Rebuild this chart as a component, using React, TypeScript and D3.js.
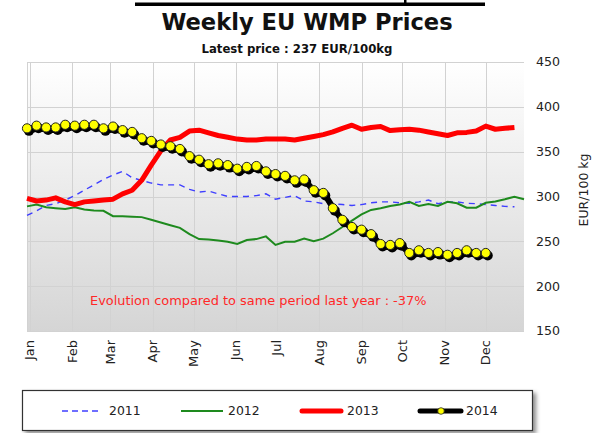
import React, { useEffect, useRef } from 'react';
import * as d3 from 'd3';

// weekly prices, EUR/100kg, one value per ISO week (Monday)
const prices2011 = [279, 284, 290, 292, 296, 301, 307, 313, 319, 324, 328, 321, 318, 315, 313, 313, 313, 308, 305, 306, 303, 300, 300, 300, 301, 303, 297, 299, 301, 295, 294, 292, 292, 291, 290, 291, 293, 294, 294, 293, 292.5, 294, 296, 292, 294, 294, 292.5, 292, 291, 290, 289, 288.5];
const prices2012 = [289, 291, 288, 287, 286, 288, 285.5, 284.5, 284, 278, 278, 277.5, 277, 274, 271, 268, 265, 258, 252.5, 252, 251, 249.5, 247, 251.5, 252.5, 255.5, 246, 249.5, 249.5, 253, 250, 253, 259, 266, 273, 280, 285, 287, 289.5, 291, 294, 289.5, 291.5, 289.5, 294, 292.5, 287.5, 287.5, 293, 294.5, 297, 299.8, 297];
const prices2013 = [298, 295, 296, 298.5, 294, 291, 294, 295, 296, 297, 303, 307, 318, 335, 351, 363, 366, 373, 374, 371, 368, 366, 364, 363, 363, 364, 364, 364, 363, 365, 367, 369, 372, 376, 379.5, 375, 377, 378, 373.5, 374.5, 375, 374, 372, 370, 368, 371, 371.5, 373, 378.5, 375, 376, 377];
const prices2014 = [376, 379, 377, 377, 380, 379, 380, 380, 376, 378, 374, 372, 365, 362, 358, 356, 353, 345, 341, 336, 337, 335, 331, 333, 334, 328, 325, 323, 318, 319, 307, 304, 287, 274, 266, 263, 258, 247, 246, 248, 237, 240, 237, 238, 235, 237, 240, 237, 237];

const yTicks = [150, 200, 250, 300, 350, 400, 450];
const monthLabels = ['Jan', 'Feb', 'Mar', 'Apr', 'May', 'Jun', 'Jul', 'Aug', 'Sep', 'Oct', 'Nov', 'Dec'];
const legendYears = ['2011', '2012', '2013', '2014'];

const FONT = "'DejaVu Sans', Verdana, sans-serif";

function WmpChart() {
  const ref = useRef<SVGSVGElement>(null);

  useEffect(() => {
    const svg = d3.select(ref.current);
    svg.selectAll('*').remove();

    const plot = { left: 27, right: 524, top: 62, bottom: 331 };
    const start = new Date(2013, 11, 30);
    const end = new Date(2014, 11, 29);
    const weeks = d3.timeMonday.range(start, new Date(2014, 11, 30));

    const x = d3.scaleTime().domain([start, end]).range([plot.left, plot.right]);
    const y = d3.scaleLinear().domain([150, 450]).range([plot.bottom, plot.top]);

    const defs = svg.append('defs');
    const grad = defs.append('linearGradient')
      .attr('id', 'bg').attr('x1', 0).attr('y1', 0).attr('x2', 0).attr('y2', 1);
    grad.append('stop').attr('offset', '0%').attr('stop-color', '#ffffff');
    grad.append('stop').attr('offset', '100%').attr('stop-color', '#d5d5d5');
    const shadow = defs.append('filter').attr('id', 'legShadow')
      .attr('x', '-5%').attr('y', '-20%').attr('width', '115%').attr('height', '160%');
    shadow.append('feDropShadow').attr('dx', 3).attr('dy', 3)
      .attr('stdDeviation', 2).attr('flood-color', '#000').attr('flood-opacity', 0.45);

    // cropped bar above the title
    svg.append('rect').attr('x', 135).attr('y', 2.5).attr('width', 350).attr('height', 3.5).attr('fill', '#000');
    svg.append('rect').attr('x', 404).attr('y', 0).attr('width', 2.5).attr('height', 3).attr('fill', '#000');

    svg.append('text').attr('x', 307).attr('y', 30).attr('text-anchor', 'middle')
      .style('font-family', FONT).style('font-weight', 'bold').style('font-size', '22.6px')
      .attr('fill', '#111').text('Weekly EU WMP Prices');
    svg.append('text').attr('x', 297).attr('y', 53).attr('text-anchor', 'middle')
      .style('font-family', FONT).style('font-weight', 'bold').style('font-size', '11.7px')
      .attr('fill', '#111').text('Latest price : 237 EUR/100kg');

    // plot background
    svg.append('rect').attr('x', plot.left).attr('y', plot.top)
      .attr('width', plot.right - plot.left).attr('height', plot.bottom - plot.top)
      .attr('fill', 'url(#bg)');

    const months = d3.timeMonth.range(new Date(2014, 0, 1), new Date(2015, 0, 1));

    const grid = svg.append('g').attr('stroke', '#d2d2d2').attr('stroke-width', 1);
    grid.selectAll('line.h').data(yTicks).enter().append('line')
      .attr('x1', plot.left).attr('x2', plot.right)
      .attr('y1', d => Math.round(y(d)) + 0.5).attr('y2', d => Math.round(y(d)) + 0.5);
    grid.selectAll('line.v').data(months).enter().append('line')
      .attr('y1', plot.top).attr('y2', plot.bottom)
      .attr('x1', d => Math.round(x(d)) + 0.5).attr('x2', d => Math.round(x(d)) + 0.5);
    grid.append('line').attr('x1', plot.left + 0.5).attr('x2', plot.left + 0.5)
      .attr('y1', plot.top).attr('y2', plot.bottom);

    // right axis labels
    svg.append('g').selectAll('text').data(yTicks).enter().append('text')
      .attr('x', 536).attr('y', d => y(d)).attr('dy', '0.35em')
      .style('font-family', FONT).style('font-size', '12.6px').attr('fill', '#222')
      .text(d => d);
    svg.append('text').attr('transform', 'translate(588,190) rotate(-90)')
      .attr('text-anchor', 'middle')
      .style('font-family', FONT).style('font-size', '12.5px').attr('fill', '#222')
      .text('EUR/100 kg');

    // month labels
    svg.append('g').selectAll('text').data(months).enter().append('text')
      .attr('transform', (d: Date) => `translate(${x(d)},340) rotate(-90)`)
      .attr('text-anchor', 'end').attr('dy', '0.35em')
      .style('font-family', FONT).style('font-size', '13px').attr('fill', '#222')
      .text((d: Date, i: number) => monthLabels[i]);

    const line = d3.line<number>()
      .x((d, i) => x(weeks[i]))
      .y(d => y(d));

    svg.append('path').datum(prices2011).attr('d', line).attr('fill', 'none')
      .attr('stroke', '#3f3fff').attr('stroke-width', 1.4).attr('stroke-dasharray', '6,5');
    svg.append('path').datum(prices2012).attr('d', line).attr('fill', 'none')
      .attr('stroke', '#1e8a1e').attr('stroke-width', 2);
    svg.append('path').datum(prices2013).attr('d', line).attr('fill', 'none')
      .attr('stroke', '#ff0000').attr('stroke-width', 5).attr('stroke-linejoin', 'round');

    // 2014 with shadow
    const s14 = svg.append('g');
    s14.append('path').datum(prices2014).attr('d', line).attr('fill', 'none')
      .attr('transform', 'translate(2,2.5)')
      .attr('stroke', '#000').attr('stroke-width', 6).attr('stroke-linejoin', 'round');
    s14.selectAll('circle.sh').data(prices2014).enter().append('circle')
      .attr('cx', (d, i) => x(weeks[i]) + 2).attr('cy', d => y(d) + 2.5)
      .attr('r', 5).attr('fill', '#000');
    s14.append('path').datum(prices2014).attr('d', line).attr('fill', 'none')
      .attr('stroke', '#000').attr('stroke-width', 4).attr('stroke-linejoin', 'round');
    s14.selectAll('circle.pt').data(prices2014).enter().append('circle')
      .attr('cx', (d, i) => x(weeks[i])).attr('cy', d => y(d))
      .attr('r', 4.6).attr('fill', '#ffff00').attr('stroke', '#222').attr('stroke-width', 1);

    svg.append('text').attr('x', 90).attr('y', 305)
      .style('font-family', FONT).style('font-size', '12.9px').attr('fill', '#ff2828')
      .text('Evolution compared to same period last year : -37%');

    // legend
    const leg = svg.append('g');
    leg.append('rect').attr('x', 22.5).attr('y', 390.5).attr('width', 510).attr('height', 40)
      .attr('fill', '#fff').attr('stroke', '#333').attr('stroke-width', 1.2)
      .attr('filter', 'url(#legShadow)');
    const itemX = [62, 181, 300, 418];
    const ly = 411;
    leg.append('line').attr('x1', itemX[0]).attr('x2', itemX[0] + 38).attr('y1', ly).attr('y2', ly)
      .attr('stroke', '#3f3fff').attr('stroke-width', 1.4).attr('stroke-dasharray', '6,4');
    leg.append('line').attr('x1', itemX[1]).attr('x2', itemX[1] + 42).attr('y1', ly).attr('y2', ly)
      .attr('stroke', '#1e8a1e').attr('stroke-width', 2);
    leg.append('line').attr('x1', itemX[2] + 2).attr('x2', itemX[2] + 41).attr('y1', ly).attr('y2', ly)
      .attr('stroke', '#ff0000').attr('stroke-width', 5).attr('stroke-linecap', 'round');
    leg.append('line').attr('x1', itemX[3] + 2).attr('x2', itemX[3] + 43).attr('y1', ly).attr('y2', ly)
      .attr('stroke', '#000').attr('stroke-width', 5).attr('stroke-linecap', 'round');
    leg.append('circle').attr('cx', itemX[3] + 23).attr('cy', ly).attr('r', 3.3)
      .attr('fill', '#ffff00').attr('stroke', '#222').attr('stroke-width', 0.8);
    const textX = [109, 228, 347, 466];
    leg.selectAll('text').data(legendYears).enter().append('text')
      .attr('x', (d, i) => textX[i]).attr('y', ly).attr('dy', '0.36em')
      .style('font-family', FONT).style('font-size', '12.4px').attr('fill', '#222')
      .text(d => d);
  }, []);

  return (
    <svg ref={ref} width={613} height={433}
      style={{ position: 'absolute', left: 0, top: 0, background: '#fff' }} />
  );
}

export default function App() {
  return <WmpChart />;
}
